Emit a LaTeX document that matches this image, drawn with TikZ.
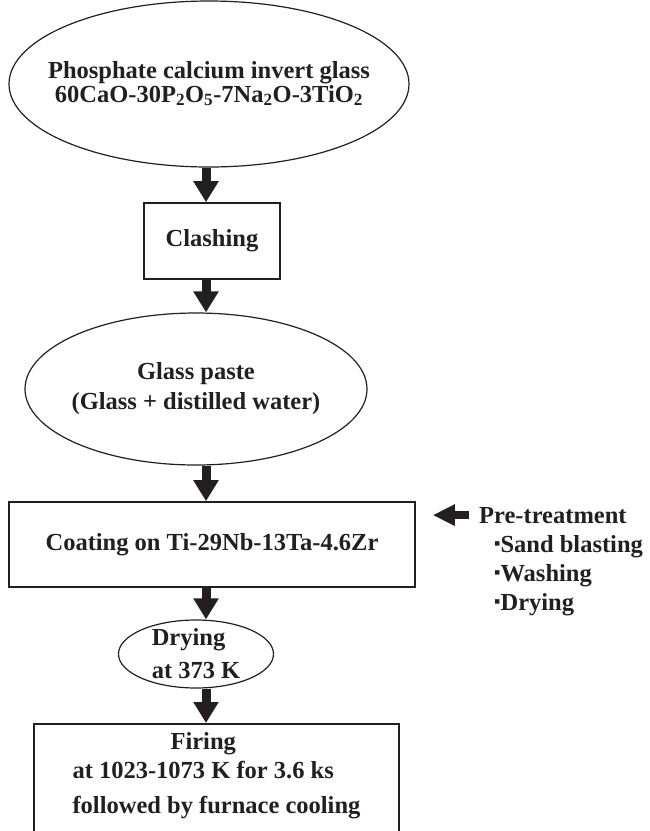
\documentclass[tikz,border=0pt]{standalone}
\usepackage{fontspec}
\setmainfont{Liberation Serif}
\usetikzlibrary{shapes.geometric,arrows.meta}
\definecolor{ink}{HTML}{231F20}
\newcommand{\dotitem}{\raisebox{2.5pt}{\fontsize{18}{18}\selectfont ▪}}
\begin{document}
\begin{tikzpicture}[x=1pt, y=-1pt, color=ink, text=ink,
  font=\fontsize{24.5}{29}\selectfont\bfseries,
  oval/.style={ellipse, draw, line width=1.2pt, inner sep=-100pt, align=center},
  box/.style={rectangle, draw, line width=1.6pt, inner sep=0pt, align=center},
  flow/.style={-{Triangle[width=24pt,length=21pt]}, line width=9pt},
  feed/.style={-{Triangle[width=20pt,length=22pt]}, line width=8pt},
  note/.style={inner sep=0pt, align=left}]

\clip (0,0) rectangle (650,831);
\coordinate (axis) at (206,0);

\node[oval, minimum width=400pt, minimum height=166pt, font=\fontsize{24.5}{22}\selectfont\bfseries] (glass) at (209,84) {Phosphate calcium invert glass\\60CaO-30P\textsubscript{2}O\textsubscript{5}-7Na\textsubscript{2}O-3TiO\textsubscript{2}};
\node[box, minimum width=136pt, minimum height=76pt] (clash) at (212,241) {Clashing};
\node[oval, minimum width=342pt, minimum height=152pt, font=\fontsize{24.5}{30}\selectfont\bfseries] (paste) at (196,389) {Glass paste\\(Glass + distilled water)};
\node[box, minimum width=406pt, minimum height=85pt] (coat) at (212,544.5) {Coating on Ti-29Nb-13Ta-4.6Zr};
\node[oval, minimum width=155pt, minimum height=68pt, align=left, font=\fontsize{24.5}{33}\selectfont\bfseries] (dry) at (196,654) {Drying\\at 373 K};
\node[box, anchor=north, minimum width=365pt, inner ysep=9pt, align=left] (fire) at (216.5,723) {\hspace*{98pt}Firing\\at 1023-1073 K for 3.6 ks\\[6pt]followed by furnace cooling\\[30pt]\mbox{}};

\node[note, anchor=base west, inner xsep=10pt] (pre) at (469,523) {Pre-treatment};
\node[note, anchor=north west] (steps) at (494,535) {\dotitem Sand blasting\\\dotitem Washing\\\dotitem Drying};

\draw[flow] (glass.south -| axis) -- (clash.north -| axis);
\draw[flow] (clash.south -| axis) -- (paste.north -| axis);
\draw[flow] (paste.south -| axis) -- (coat.north -| axis);
\draw[flow] (coat.south -| axis) -- (dry.north -| axis);
\draw[flow] (dry.south -| axis) -- (fire.north -| axis);
\draw[feed, shorten >=17pt] (pre.west) -- (pre.west -| coat.east);
\end{tikzpicture}
\end{document}
